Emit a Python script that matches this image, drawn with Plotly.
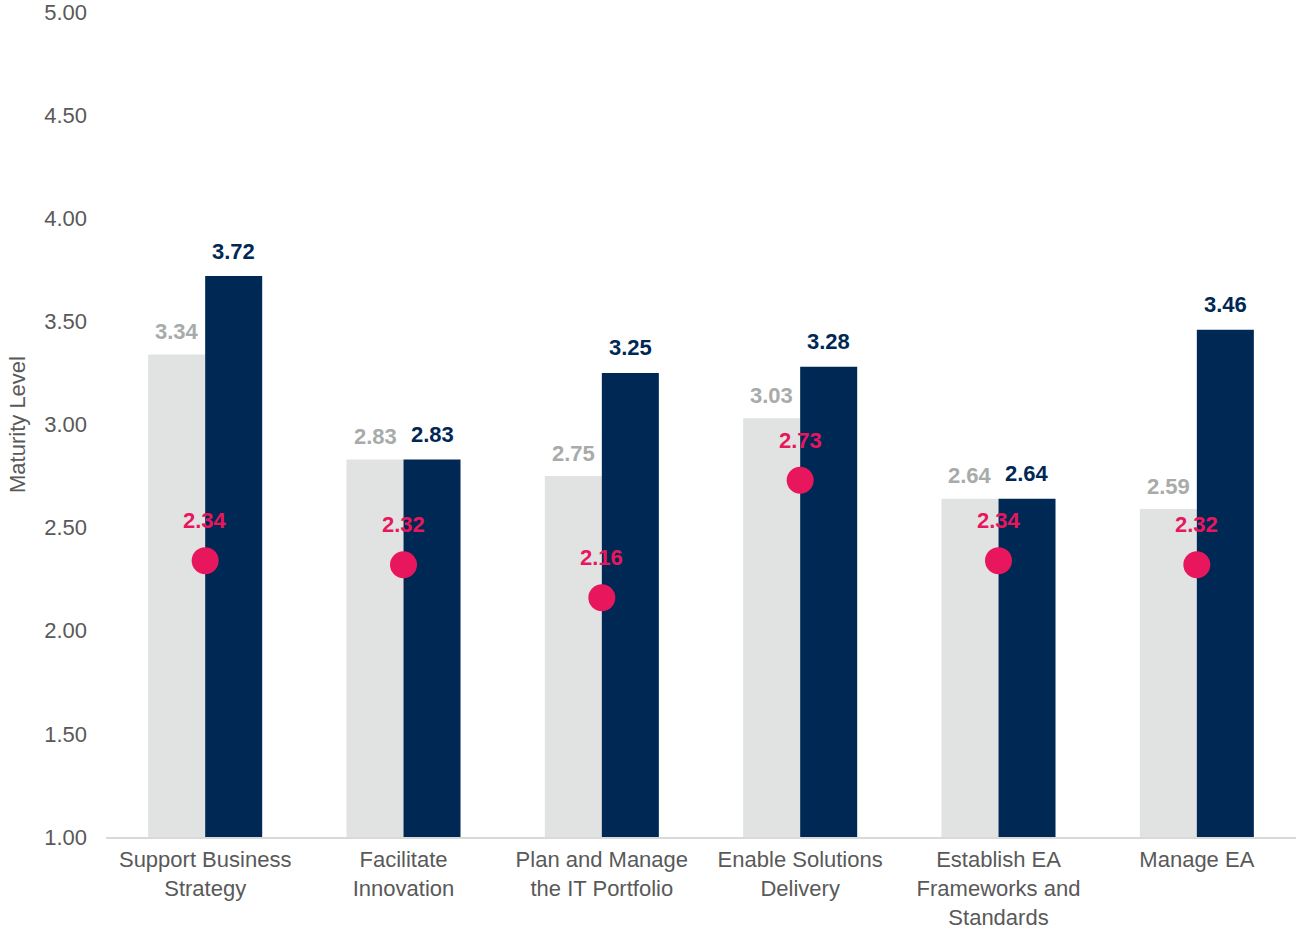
import plotly.graph_objects as go

categories = ["Support Business<br>Strategy", "Facilitate<br>Innovation",
              "Plan and Manage<br>the IT Portfolio", "Enable Solutions<br>Delivery",
              "Establish EA<br>Frameworks and<br>Standards", "Manage EA"]
series_gray = [3.34, 2.83, 2.75, 3.03, 2.64, 2.59]
series_navy = [3.72, 2.83, 3.25, 3.28, 2.64, 3.46]
series_dot = [2.34, 2.32, 2.16, 2.73, 2.34, 2.32]
y_ticks = [1.0, 1.5, 2.0, 2.5, 3.0, 3.5, 4.0, 4.5, 5.0]

GRAY = "#e1e3e2"
GRAY_TXT = "#a7abaa"
NAVY = "#002855"
PINK = "#e8175d"
AXIS_TXT = "#595959"
FONT = "Liberation Sans, Arial, sans-serif"
FS = 22

fig = go.Figure()
fig.add_trace(go.Bar(x=categories, y=series_gray, marker_color=GRAY, marker_line_width=0,
                     offsetgroup="a", showlegend=False, hoverinfo="x+y"))
fig.add_trace(go.Bar(x=categories, y=series_navy, marker_color=NAVY, marker_line_width=0,
                     offsetgroup="b", showlegend=False, hoverinfo="x+y"))
fig.add_trace(go.Scatter(x=categories, y=series_dot, mode="markers",
                         marker=dict(color=PINK, size=27), cliponaxis=False,
                         showlegend=False))

annotations = []
for c, g, n, d in zip(categories, series_gray, series_navy, series_dot):
    annotations.append(dict(x=c, y=g, text=f"<b>{g:.2f}</b>", showarrow=False, xref="x", yref="y",
                            xshift=-28.5, yshift=23, yanchor="middle",
                            font=dict(color=GRAY_TXT, size=FS, family=FONT)))
    annotations.append(dict(x=c, y=n, text=f"<b>{n:.2f}</b>", showarrow=False, xref="x", yref="y",
                            xshift=28.5, yshift=25, yanchor="middle",
                            font=dict(color=NAVY, size=FS, family=FONT)))
    annotations.append(dict(x=c, y=d, text=f"<b>{d:.2f}</b>", showarrow=False, xref="x", yref="y",
                            xshift=0, yshift=40, yanchor="middle",
                            font=dict(color=PINK, size=FS, family=FONT)))

fig.update_layout(
    width=1299, height=932,
    margin=dict(l=106, r=3, t=12, b=95),
    plot_bgcolor="white", paper_bgcolor="white",
    barmode="group", bargap=0.425, bargroupgap=0,
    font=dict(family=FONT, size=FS, color=AXIS_TXT),
    annotations=annotations,
)
fig.update_yaxes(range=[1, 5], tickvals=y_ticks, ticktext=[f"{v:.2f}" for v in y_ticks],
                 showgrid=False, zeroline=False, showline=False, automargin=False,
                 tickfont=dict(size=FS, color=AXIS_TXT, family=FONT),
                 ticklabelstandoff=18, ticklabeloverflow="allow",
                 title=dict(text="Maturity Level", font=dict(size=FS, color=AXIS_TXT, family=FONT), standoff=12))
fig.update_xaxes(showgrid=False, showline=True, linecolor="#d9d9d9", linewidth=2, automargin=False,
                 tickfont=dict(size=FS, color=AXIS_TXT, family=FONT), ticks="",
                 ticklabelstandoff=2, ticklabeloverflow="allow")

fig.write_html("out.html")
